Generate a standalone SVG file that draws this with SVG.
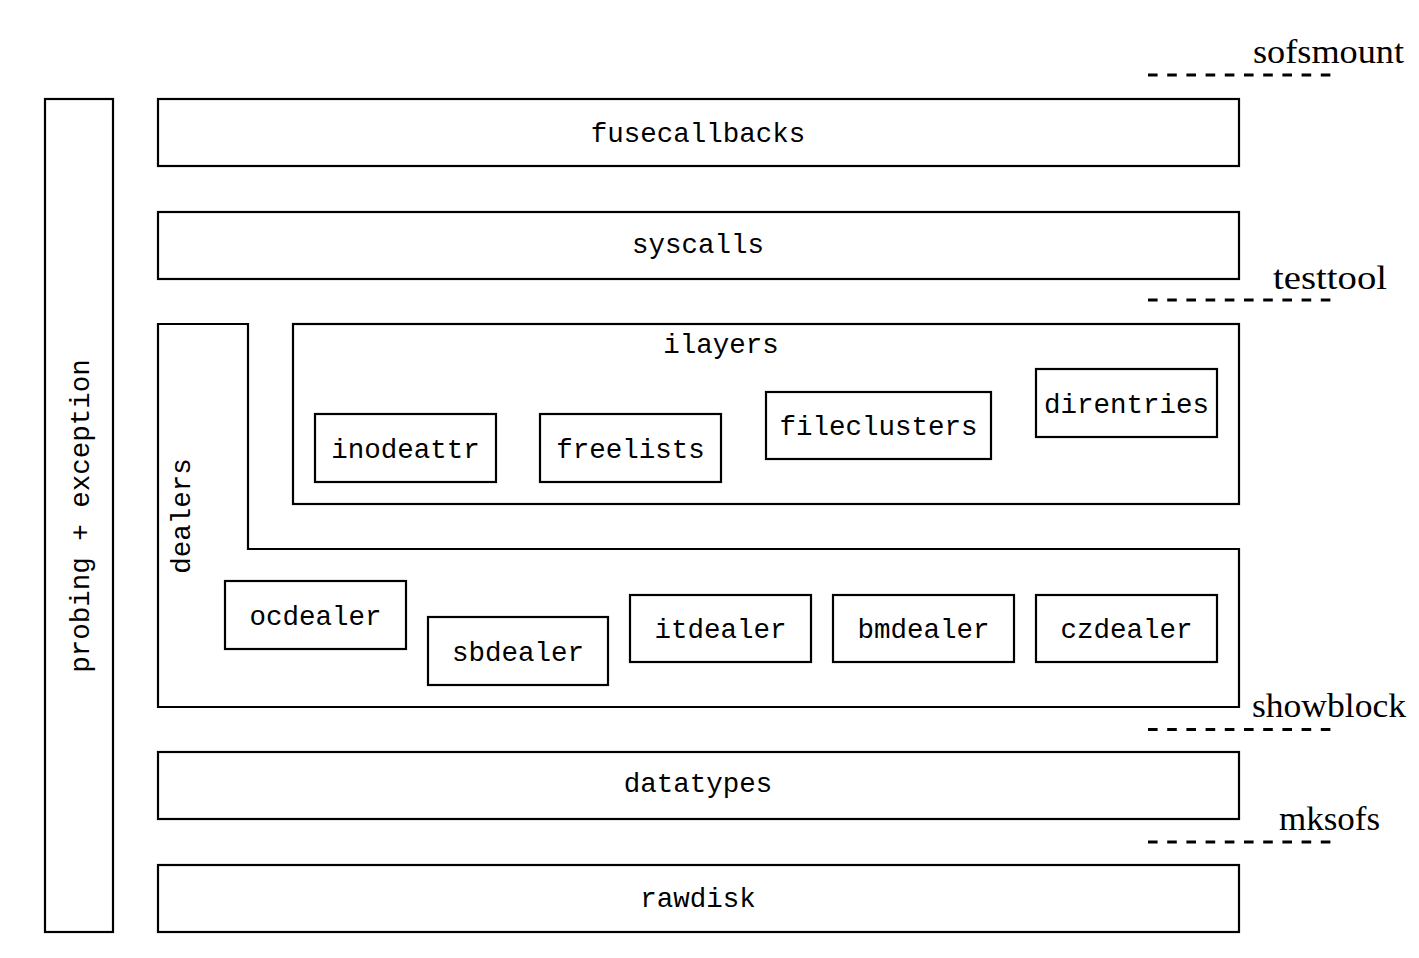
<svg xmlns="http://www.w3.org/2000/svg" width="1419" height="958" viewBox="0 0 1419 958">
<style>
.b{fill:none;stroke:#000;stroke-width:2.2}
.m{font-family:"Liberation Mono","Courier New",monospace;font-size:27.5px;fill:#000;text-anchor:middle}
.s{font-family:"Liberation Serif","Times New Roman",serif;font-size:33px;fill:#000;text-anchor:middle}
.d{stroke:#000;stroke-width:2.8;stroke-dasharray:9.6 9.6;fill:none}
</style>
<rect width="1419" height="958" fill="#fff"/>
<g id="probing">
<rect class="b" x="45" y="99" width="68" height="833"/>
<text class="m" transform="translate(89,516) rotate(-90)">probing + exception</text>
</g>
<g id="fusecallbacks">
<rect class="b" x="158" y="99" width="1081" height="67"/>
<text class="m" x="698" y="142">fusecallbacks</text>
</g>
<g id="syscalls">
<rect class="b" x="158" y="212" width="1081" height="67"/>
<text class="m" x="698" y="253">syscalls</text>
</g>
<g id="ilayers">
<rect class="b" x="293" y="324" width="946" height="180"/>
<text class="m" x="721" y="353">ilayers</text>
</g>
<g id="inodeattr">
<rect class="b" x="315" y="414" width="181" height="68"/>
<text class="m" x="405.5" y="457.5">inodeattr</text>
</g>
<g id="freelists">
<rect class="b" x="540" y="414" width="181" height="68"/>
<text class="m" x="630.5" y="457.5">freelists</text>
</g>
<g id="fileclusters">
<rect class="b" x="766" y="392" width="225" height="67"/>
<text class="m" x="878.5" y="435">fileclusters</text>
</g>
<g id="direntries">
<rect class="b" x="1036" y="369" width="181" height="68"/>
<text class="m" x="1126.5" y="412.5">direntries</text>
</g>
<g id="dealers">
<path class="b" d="M158,324 H248 V549 H1239 V707 H158 Z"/>
<text class="m" transform="translate(190,516) rotate(-90)">dealers</text>
</g>
<g id="ocdealer">
<rect class="b" x="225" y="581" width="181" height="68"/>
<text class="m" x="315.5" y="624.5">ocdealer</text>
</g>
<g id="sbdealer">
<rect class="b" x="428" y="617" width="180" height="68"/>
<text class="m" x="518" y="660.5">sbdealer</text>
</g>
<g id="itdealer">
<rect class="b" x="630" y="595" width="181" height="67"/>
<text class="m" x="720.5" y="638">itdealer</text>
</g>
<g id="bmdealer">
<rect class="b" x="833" y="595" width="181" height="67"/>
<text class="m" x="923.5" y="638">bmdealer</text>
</g>
<g id="czdealer">
<rect class="b" x="1036" y="595" width="181" height="67"/>
<text class="m" x="1126.5" y="638">czdealer</text>
</g>
<g id="datatypes">
<rect class="b" x="158" y="752" width="1081" height="67"/>
<text class="m" x="698" y="792">datatypes</text>
</g>
<g id="rawdisk">
<rect class="b" x="158" y="865" width="1081" height="67"/>
<text class="m" x="698" y="907">rawdisk</text>
</g>
<g id="connectors">
<line class="d" x1="1148" y1="75" x2="1331" y2="75"/>
<line class="d" x1="1148" y1="300" x2="1331" y2="300"/>
<line class="d" x1="1148" y1="729.5" x2="1331" y2="729.5"/>
<line class="d" x1="1148" y1="842" x2="1331" y2="842"/>
</g>
<g id="labels">
<text class="s" x="1328.5" y="63" textLength="151" lengthAdjust="spacingAndGlyphs">sofsmount</text>
<text class="s" x="1330" y="289" textLength="114" lengthAdjust="spacingAndGlyphs">testtool</text>
<text class="s" x="1329" y="717" textLength="154" lengthAdjust="spacingAndGlyphs">showblock</text>
<text class="s" x="1329.5" y="830" textLength="101" lengthAdjust="spacingAndGlyphs">mksofs</text>
</g>
</svg>
